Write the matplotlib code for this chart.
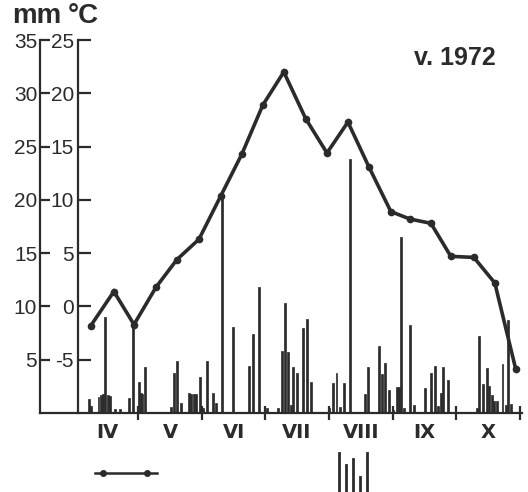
import matplotlib.pyplot as plt
from matplotlib.lines import Line2D

plt.rcParams['font.family'] = ['Liberation Sans', 'DejaVu Sans']
ink = '#2b2b2b'

# days counted from 1 April
month_names = ['IV', 'V', 'VI', 'VII', 'VIII', 'IX', 'X']
month_edges = [0, 30, 61, 91, 122, 153, 183, 214]

# decade mean air temperature (°C)
temp_day = [7.2, 18.3, 28.0, 38.6, 48.7, 59.3, 69.9, 80.0, 90.1, 100.2, 110.8,
            121.0, 131.1, 141.2, 151.8, 161.0, 171.1, 180.7, 191.8, 201.9, 212.0]
temp_c = [-1.8, 1.4, -1.7, 1.8, 4.4, 6.3, 10.4, 14.3, 18.9, 22.0, 17.6,
          14.4, 17.3, 13.1, 8.9, 8.2, 7.8, 4.7, 4.6, 2.2, -5.9]

# daily precipitation (mm)
rain_day = [6.1, 7.1, 10.9, 11.9, 12.9, 14.1, 15.3, 16.4, 18.7, 21.2, 25.4, 27.6,
            30.2, 31.2, 32.1, 33.1, 45.9, 47.2, 48.5, 50.7, 54.3, 55.6, 56.7, 57.8,
            59.8, 61.1, 63.3, 66.2, 67.5, 70.2, 75.5, 83.5, 85.4, 88.3, 91.9,
            97.5, 99.3, 100.9, 102.2, 103.5, 104.7, 106.4, 109.5, 111.2, 113.4,
            122.1, 124.0, 125.6, 127.2, 129.2, 132.0, 139.1, 140.7, 146.0, 147.3,
            149.1, 150.7, 152.9, 154.6, 155.5, 156.6, 158.1, 161.2, 162.9,
            168.2, 171.2, 173.2, 174.5, 175.8, 177.0, 179.3,
            193.1, 194.4, 196.0, 197.9, 199.2, 200.5, 201.4, 203.0, 205.6, 207.2,
            208.2, 209.8]
rain_mm = [1.3, 0.65, 1.5, 1.7, 1.8, 9.0, 1.7, 1.6, 0.35, 0.4, 1.4, 8.1,
           2.9, 1.9, 1.8, 4.35, 0.6, 3.8, 4.9, 0.9, 1.9, 1.8, 1.8, 1.8,
           3.35, 0.45, 4.9, 1.85, 0.9, 20.1, 8.1, 4.4, 7.4, 11.85, 0.45,
           0.45, 5.85, 10.3, 5.75, 0.75, 4.3, 3.8, 7.95, 8.8, 2.9,
           0.45, 2.8, 3.8, 0.6, 2.85, 23.8, 1.8, 4.35, 6.3, 3.65,
           4.7, 2.2, 0.3, 2.4, 2.4, 16.5, 0.45, 8.25, 0.75,
           2.3, 3.8, 4.45, 0.65, 1.85, 4.3, 3.1,
           0.45, 7.2, 2.7, 4.2, 2.5, 1.7, 1.15, 1.15, 4.6, 0.75,
           8.7, 0.85]

mm_ticks = [5, 10, 15, 20, 25, 30, 35]
c_ticks = [-5, 0, 5, 10, 15, 20, 25]

fig = plt.figure(figsize=(5.28, 4.92), dpi=100)
ax = fig.add_axes([40 / 528, 79 / 492, 482 / 528, 373 / 492])

ax.bar(rain_day, rain_mm, width=0.95, color=ink, edgecolor=ink, linewidth=0.5)
ax.set_xlim(-17.3, 215)
ax.set_ylim(0, 35)
for s in ['top', 'right']:
    ax.spines[s].set_visible(False)
for s in ['left', 'bottom']:
    ax.spines[s].set_linewidth(1.6)
    ax.spines[s].set_color(ink)

ax.set_yticks(mm_ticks)
ax.set_yticklabels([str(v) for v in mm_ticks])
ax.tick_params(axis='y', direction='in', length=7, width=1.6, color=ink,
               labelsize=15, pad=2, labelcolor=ink)

ax.set_xticks(month_edges[1:])
ax.set_xticklabels([])
ax.tick_params(axis='x', which='major', direction='inout', length=10, width=1.6, color=ink)
ax.set_xticks([(a + b) / 2 for a, b in zip(month_edges[:-1], month_edges[1:])], minor=True)
ax.set_xticklabels(month_names, minor=True, fontweight='bold', fontsize=14,
                   color=ink, family='DejaVu Sans')
ax.tick_params(axis='x', which='minor', length=0, pad=7)

# temperature scale, drawn as a second axis inside the first
ax2 = ax.twinx()
ax2.set_ylim(-10, 25)
ax2.yaxis.tick_left()
ax2.spines['left'].set_position(('axes', 38 / 482))
ax2.spines['left'].set_linewidth(1.6)
ax2.spines['left'].set_color(ink)
for s in ['top', 'right', 'bottom']:
    ax2.spines[s].set_visible(False)
ax2.set_yticks(c_ticks)
ax2.set_yticklabels([str(v) for v in c_ticks])
ax2.tick_params(axis='y', direction='in', length=9, width=1.6, color=ink,
                labelsize=15, pad=3, labelcolor=ink)
ax2.plot(temp_day, temp_c, color=ink, lw=2.6, marker='o', ms=4.5,
         solid_joinstyle='miter')

fig.text(12 / 528, 1 - 23 / 492, 'mm', fontsize=20, fontweight='bold',
         color=ink, va='baseline', ha='left')
fig.text(68 / 528, 1 - 23 / 492, '°C', fontsize=20, fontweight='bold',
         color=ink, va='baseline', ha='left')
fig.text(455 / 528, 1 - 58 / 492, 'v. 1972', fontsize=18, fontweight='bold',
         color=ink, va='center', ha='center')

# legend samples
fig.add_artist(Line2D([95 / 528, 157 / 528], [1 - 473 / 492] * 2, color=ink, lw=1.8))
fig.add_artist(Line2D([102.7 / 528, 147.3 / 528], [1 - 473 / 492] * 2, color=ink,
                      lw=0, marker='o', ms=4))
for bx, by in zip([339, 346, 353, 360, 367], [453, 465, 459, 477, 453]):
    fig.add_artist(Line2D([bx / 528] * 2, [0, 1 - by / 492], color=ink, lw=2))

fig.savefig('out.png', dpi=100)
